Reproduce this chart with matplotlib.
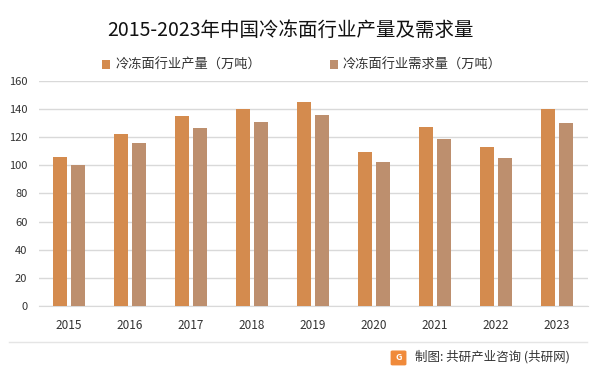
import matplotlib.pyplot as plt
import numpy as np
from matplotlib.patches import FancyBboxPatch

plt.rcParams['font.family'] = ['Noto Sans CJK SC', 'DejaVu Sans']

years = ["2015", "2016", "2017", "2018", "2019", "2020", "2021", "2022", "2023"]
production = [106, 122.5, 135, 140, 145, 109.5, 127.5, 113, 140]
demand = [100.3, 116, 126.5, 131, 136, 102.5, 119, 105, 130]

fig = plt.figure(figsize=(6.02, 3.76), dpi=100)
ax = fig.add_axes([0.064, 0.186, 0.912, 0.599])

x = np.arange(len(years))
width = 0.23
ax.bar(x - 0.15, production, width, color="#D48B4E", label="冷冻面行业产量（万吨）", zorder=3)
ax.bar(x + 0.15, demand, width, color="#BD8F6E", label="冷冻面行业需求量（万吨）", zorder=3)

ax.set_xlim(-0.5, len(years) - 0.5)
ax.set_ylim(0, 160)
ax.set_yticks(range(0, 161, 20))
ax.yaxis.grid(True, color="#D9D9D9", linewidth=1, zorder=0)
for s in ["top", "right", "left"]:
    ax.spines[s].set_visible(False)
ax.spines["bottom"].set_color("#D9D9D9")
ax.tick_params(axis="both", length=0, labelsize=8, colors="#333333")
ax.tick_params(axis="x", pad=9, labelsize=8.5)
ax.tick_params(axis="y", pad=8)
ax.set_xticks(x)
ax.set_xticklabels(years)

fig.text(0.482, 0.92, "2015-2023年中国冷冻面行业产量及需求量", ha="center", va="center",
         fontsize=14, color="#111111")

ax.legend(loc="upper center", bbox_to_anchor=(0.48, 1.15), ncol=2, frameon=False,
          fontsize=9.5, handlelength=0.6, handleheight=0.6, columnspacing=5.2,
          handletextpad=0.4, labelcolor="#333333")

# footer
fig.add_artist(plt.Line2D([0.015, 0.975], [0.09, 0.09], color="#E5E5E5", linewidth=1))
fig.patches.append(FancyBboxPatch((0.652, 0.032), 0.02, 0.032, boxstyle="round,pad=0.002",
                                  transform=fig.transFigure, color="#F08A3A"))
fig.text(0.662, 0.049, "G", ha="center", va="center", fontsize=6.5, color="white", weight="bold")
fig.text(0.689, 0.05, "制图: 共研产业咨询 (共研网)", ha="left", va="center",
         fontsize=9, color="#333333")

fig.savefig("out.png", dpi=100)
